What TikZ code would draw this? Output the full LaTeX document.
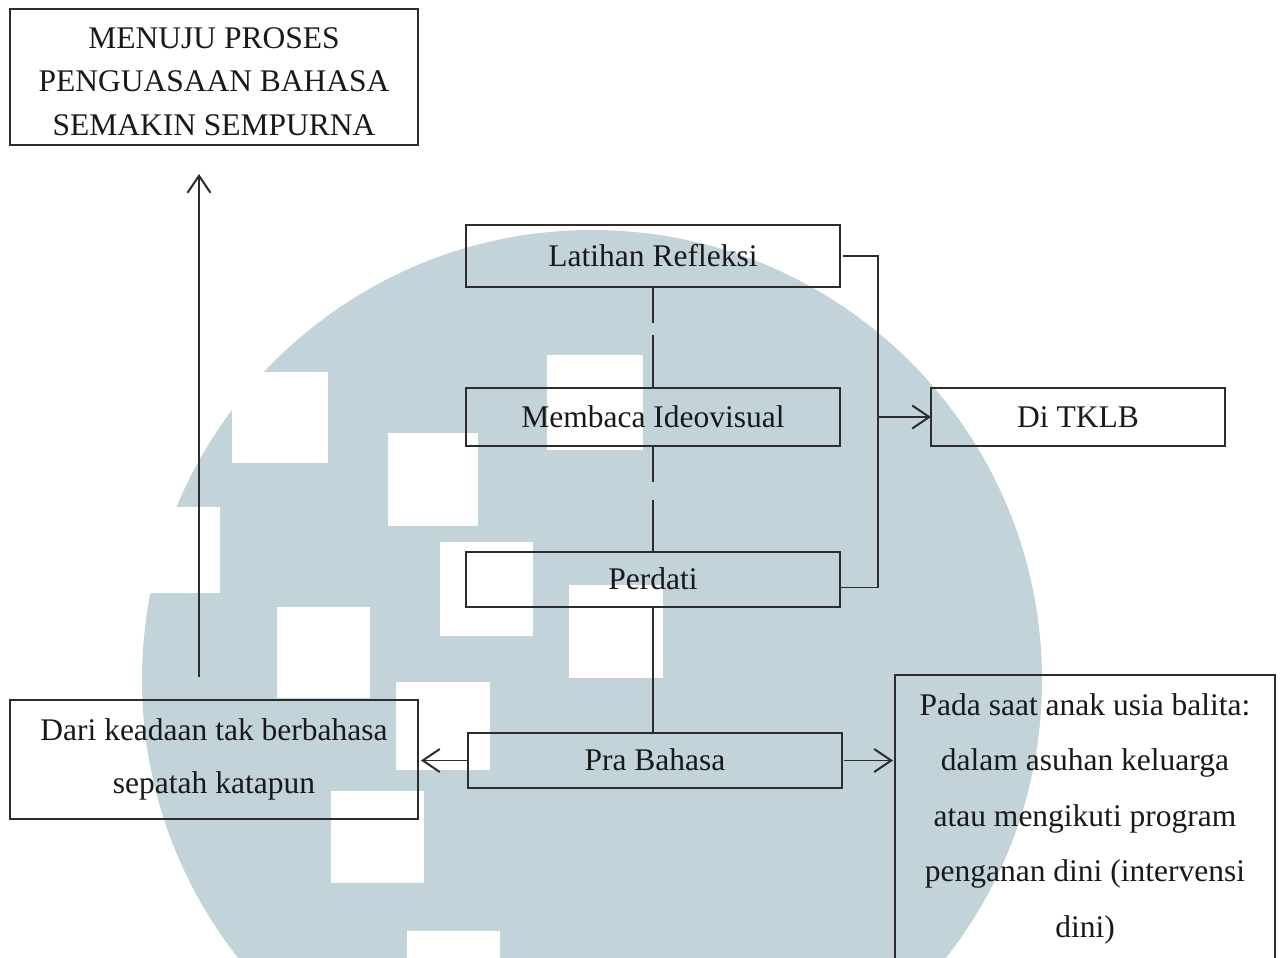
\documentclass[tikz,border=0pt]{standalone}
\usepackage{fontspec}
\setmainfont{Liberation Serif}
\usetikzlibrary{arrows.meta}
\definecolor{wm}{RGB}{194,211,218}
\definecolor{ln}{RGB}{45,45,45}
\tikzset{
  box/.style={draw=ln, line width=1.4pt, rectangle, inner sep=0pt, outer sep=0pt, align=center, text=black!90},
  one/.style={text height=24pt, text depth=4pt, font=\fontsize{31.5}{40}\selectfont},
  conn/.style={draw=ln, line width=1.6pt},
  arr/.style={conn, -{Straight Barb[length=17pt,width=23pt,line width=2pt]}}
}
\begin{document}
\begin{tikzpicture}[x=1pt,y=-1pt]
\useasboundingbox (0,0) rectangle (1283,958);
% watermark
\begin{scope}
\clip (0,0) rectangle (1283,958);
\fill[wm] (592,680) circle (450);
\fill[white] (547,355) rectangle (643,450);
\fill[white] (388,433) rectangle (478,526);
\fill[white] (440,542) rectangle (533,636);
\fill[white] (277,607) rectangle (370,698);
\fill[white] (569,585) rectangle (663,678);
\fill[white] (396,682) rectangle (490,770);
\fill[white] (331,791) rectangle (424,883);
\fill[white] (407,931) rectangle (500,1000);
\fill[white] (232,372) rectangle (328,463);
\fill[white] (130,507) rectangle (220,593);
\end{scope}
% nodes
\node[box, minimum width=408pt, minimum height=136pt, text height=120pt, text depth=4pt,
      font=\fontsize{31.5}{43.5}\selectfont] (top) at (214,77)
      {MENUJU PROSES\\PENGUASAAN BAHASA\\SEMAKIN SEMPURNA};
\node[box, one, minimum width=374pt, minimum height=62pt] (lat) at (653,256) {Latihan Refleksi};
\node[box, one, minimum width=374pt, minimum height=58pt] (mem) at (653,417) {Membaca Ideovisual};
\node[box, one, minimum width=374pt, minimum height=55pt] (per) at (653,579.5) {Perdati};
\node[box, one, minimum width=374pt, minimum height=55pt] (pra) at (655,760.5) {Pra Bahasa};
\node[box, one, minimum width=294pt, minimum height=58pt] (tk) at (1078,417) {Di TKLB};
\node[box, minimum width=408pt, minimum height=119pt, text height=70pt, text depth=3pt,
      font=\fontsize{31.5}{53}\selectfont] (dari) at (214,759.5)
      {Dari keadaan tak berbahasa\\sepatah katapun};
\node[box, minimum width=380pt, minimum height=300pt, text height=228pt, text depth=4pt,
      font=\fontsize{31.5}{55.5}\selectfont] (pada) at (1085,825)
      {Pada saat anak usia balita:\\dalam asuhan keluarga\\atau mengikuti program\\penganan dini (intervensi\\dini)};
% connectors
\coordinate (ua) at (199,677);
\coordinate (ub) at (199,174);
\coordinate (brk) at (878,417);
\draw[arr] (ua) -- (ub);
\draw[conn, dash pattern=on 36pt off 12pt on 100pt] (lat.south) -- (mem.north);
\draw[conn, dash pattern=on 36pt off 18pt on 100pt] (mem.south) -- (per.north);
\draw[conn] (per.south) -- (per.south |- pra.north);
\draw[conn] ([xshift=3pt]lat.east) -| (brk) |- ([yshift=-8pt]per.east);
\draw[arr] (brk) -- (tk.west);
\draw[arr] (pra.west) -- ([xshift=3pt]pra.west -| dari.east);
\draw[arr] ([xshift=2pt]pra.east) -- ([xshift=-2pt]pra.east -| pada.west);
\end{tikzpicture}
\end{document}
